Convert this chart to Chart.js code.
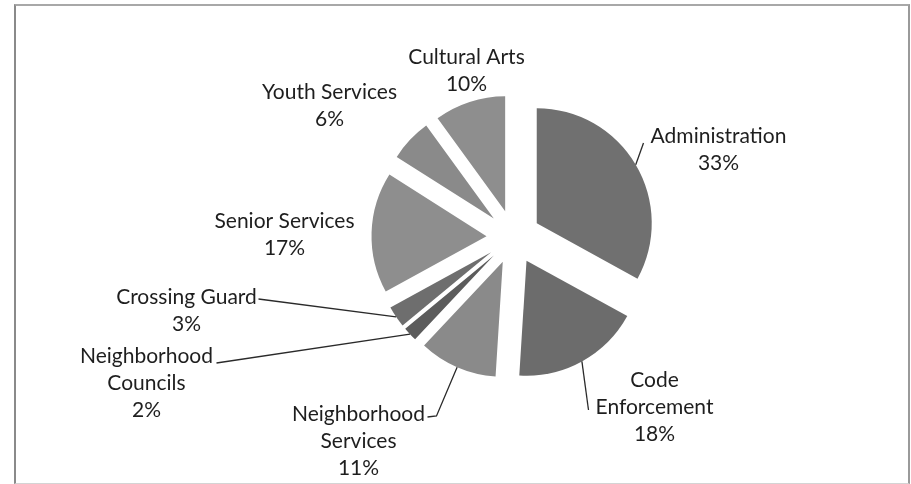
<!DOCTYPE html>
<html lang="en">
<head>
    <meta charset="UTF-8">
    <title>Budget by Division</title>
    <script src="https://cdn.jsdelivr.net/npm/chart.js"></script>
    <style>
        body { margin: 0; background-color: white; }
        .wrap { position: relative; width: 911px; height: 484px; }
        .frame { position: absolute; left: 14px; top: 4px; width: 892px; height: 477px;
                 border-left: 2px solid #8a8a8a; border-top: 2px solid #a8a8a8;
                 border-right: 2px solid #9a9a9a; border-bottom: 1px solid #d4d4d4; }
        canvas { position: absolute; left: 0; top: 0; }
    </style>
</head>
<body>
    <div class="wrap">
        <div class="frame"></div>
        <canvas id="pieChart" width="911" height="484"></canvas>
    </div>

    <script>
        const categories = ['Administration', 'Code Enforcement', 'Neighborhood Services', 'Neighborhood Councils',
                            'Crossing Guard', 'Senior Services', 'Youth Services', 'Cultural Arts'];
        const shares = [33, 18, 11, 2, 3, 17, 6, 10];
        const labelLines = [['Administration'], ['Code', 'Enforcement'], ['Neighborhood', 'Services'],
                            ['Neighborhood', 'Councils'], ['Crossing Guard'], ['Senior Services'],
                            ['Youth Services'], ['Cultural Arts']];
        const sliceColors = ['#707070', '#6c6c6c', '#8a8a8a', '#5c5c5c', '#6e6e6e', '#8e8e8e', '#8a8a8a', '#8e8e8e'];

        // label block centres and leader end points, relative to the pie centre
        const labelPos = [[205, -87], [141, 170], [-155, 204], [-367, 146], [-327, 74], [-229, -2], [-184, -131], [-47, -166]];
        const leaderEnds = [
            [[130, -94]],
            [[75, 173]],
            [[-77, 179], [-86, 180]],
            [[-297, 126]],
            [[-255, 62]],
            null, null, null
        ];

        const EXPLODE = 27;   // px each slice is pulled out from the centre
        const FONT = '21px Lato';
        const LINE_H = 27;

        // Chart.js's own offset also grows thin slices outward, so push every
        // slice out by the same distance instead
        const explodePlugin = {
            id: 'explode',
            beforeDatasetsDraw(chart) {
                chart.getDatasetMeta(0).data.forEach(arc => {
                    if (arc._exploded) return;
                    const baseDraw = arc.draw;
                    arc.draw = function (ctx) {
                        const mid = (this.startAngle + this.endAngle) / 2;
                        ctx.save();
                        ctx.translate(Math.cos(mid) * EXPLODE, Math.sin(mid) * EXPLODE);
                        baseDraw.call(this, ctx);
                        ctx.restore();
                    };
                    arc._exploded = true;
                });
            }
        };

        const labelPlugin = {
            id: 'sliceLabels',
            afterDatasetsDraw(chart) {
                const ctx = chart.ctx;
                const arcs = chart.getDatasetMeta(0).data;
                ctx.save();
                arcs.forEach((arc, i) => {
                    const cx = arc.x, cy = arc.y;
                    const mid = (arc.startAngle + arc.endAngle) / 2;
                    const r = EXPLODE + arc.outerRadius;

                    if (leaderEnds[i]) {
                        ctx.strokeStyle = '#2a2a2a';
                        ctx.lineWidth = 1.3;
                        ctx.beginPath();
                        ctx.moveTo(cx + Math.cos(mid) * r, cy + Math.sin(mid) * r);
                        leaderEnds[i].forEach(p => ctx.lineTo(cx + p[0], cy + p[1]));
                        ctx.stroke();
                    }

                    const lines = labelLines[i].concat([shares[i] + '%']);
                    const top = cy + labelPos[i][1] - (lines.length - 1) * LINE_H / 2;
                    ctx.fillStyle = '#1e1e1e';
                    ctx.font = FONT;
                    ctx.textAlign = 'center';
                    ctx.textBaseline = 'middle';
                    lines.forEach((t, k) => ctx.fillText(t, cx + labelPos[i][0], top + k * LINE_H));
                });
                ctx.restore();
            }
        };

        new Chart(document.getElementById('pieChart'), {
            type: 'pie',
            data: {
                labels: categories,
                datasets: [{
                    data: shares,
                    backgroundColor: sliceColors,
                    borderWidth: 0,
                    radius: 115
                }]
            },
            options: {
                responsive: false,
                animation: false,
                layout: { padding: { left: 116, right: 0, top: 0, bottom: 10 } },
                plugins: {
                    legend: { display: false },
                    tooltip: { enabled: false }
                }
            },
            plugins: [explodePlugin, labelPlugin]
        });
    </script>
</body>
</html>
